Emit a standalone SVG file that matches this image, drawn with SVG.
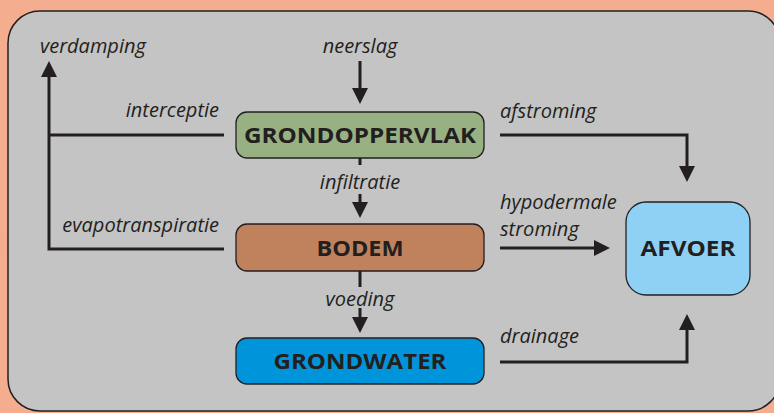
<svg xmlns="http://www.w3.org/2000/svg" width="774" height="413" viewBox="0 0 774 413">
<defs>
<marker id="ah" viewBox="0 0 16 16" refX="12" refY="8" markerWidth="16" markerHeight="16" markerUnits="userSpaceOnUse" orient="auto">
<path d="M0,0 L16,8 L0,16 z" fill="#231F20"/>
</marker>
<style>
.lbl{font-family:"Open Sans","Liberation Sans",sans-serif;font-style:italic;font-size:20px;fill:#231F20}
.nt{font-family:"Open Sans","Liberation Sans",sans-serif;font-weight:bold;font-size:21px;fill:#231F20;text-anchor:middle}
.box{stroke:#231F20;stroke-width:1.3}
.c{fill:none;stroke:#231F20;stroke-width:3}
</style>
</defs>
<rect x="0" y="0" width="774" height="413" fill="#F4AD8F"/>
<rect x="8" y="11" width="772" height="400" rx="32" fill="#C4C4C4" stroke="#231F20" stroke-width="1.5"/>
<g id="connectors">
<path class="c" d="M360,61 V100" marker-end="url(#ah)"/>
<path class="c" d="M224,249 H49 V65" marker-end="url(#ah)"/>
<path class="c" d="M224,135 H49"/>
<path class="c" d="M360,158 V165"/>
<path class="c" d="M360,194 V214" marker-end="url(#ah)"/>
<path class="c" d="M360,271 V287"/>
<path class="c" d="M360,308 V329" marker-end="url(#ah)"/>
<path class="c" d="M500,135 H687 V178" marker-end="url(#ah)"/>
<path class="c" d="M500,248 H606" marker-end="url(#ah)"/>
<path class="c" d="M500,362 H687 V318" marker-end="url(#ah)"/>
</g>
<g id="labels">
<text class="lbl" x="360" y="53" text-anchor="middle">neerslag</text>
<text class="lbl" x="40" y="53">verdamping</text>
<text class="lbl" x="219" y="117" text-anchor="end">interceptie</text>
<text class="lbl" x="219" y="232" text-anchor="end">evapotranspiratie</text>
<text class="lbl" x="360" y="189" text-anchor="middle">infiltratie</text>
<text class="lbl" x="360" y="306" text-anchor="middle">voeding</text>
<text class="lbl" x="500" y="118">afstroming</text>
<text class="lbl" x="500" y="209">hypodermale</text>
<text class="lbl" x="500" y="236">stroming</text>
<text class="lbl" x="500" y="343">drainage</text>
</g>
<g id="grondoppervlak">
<rect class="box" x="236" y="112" width="248" height="46" rx="11" fill="#98B183"/>
<text class="nt" x="360" y="143" textLength="232" lengthAdjust="spacingAndGlyphs">GRONDOPPERVLAK</text>
</g>
<g id="bodem">
<rect class="box" x="236" y="224" width="248" height="47" rx="11" fill="#BF825C"/>
<text class="nt" x="360" y="256" textLength="87" lengthAdjust="spacingAndGlyphs">BODEM</text>
</g>
<g id="grondwater">
<rect class="box" x="236" y="338" width="248" height="46" rx="11" fill="#0095DA"/>
<text class="nt" x="360" y="369" textLength="173" lengthAdjust="spacingAndGlyphs">GRONDWATER</text>
</g>
<g id="afvoer">
<rect class="box" x="626" y="202" width="124" height="93" rx="20" fill="#8FD0F5"/>
<text class="nt" x="688" y="256" textLength="95" lengthAdjust="spacingAndGlyphs">AFVOER</text>
</g>
</svg>
